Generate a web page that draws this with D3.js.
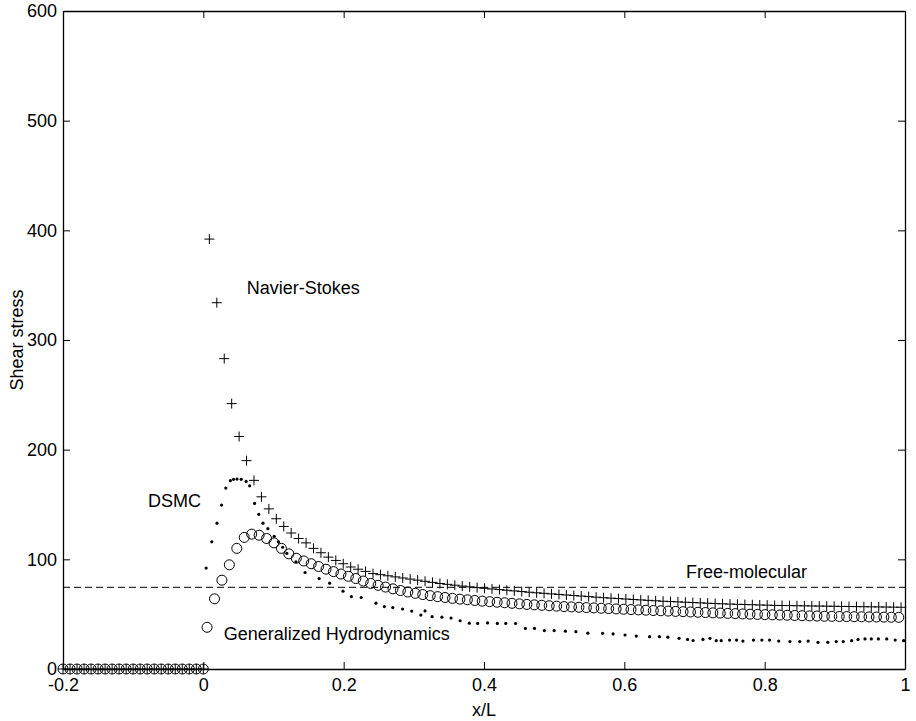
<!DOCTYPE html>
<html>
<head>
<meta charset="utf-8">
<script src="https://cdn.jsdelivr.net/npm/d3@7"></script>
<style>
  body { margin: 0; background: #fff; }
  text { font-family: "Liberation Sans", Arial, sans-serif; fill: #000; }
</style>
</head>
<body>
<svg></svg>
<script>
// upstream wall region, all three series sit on zero
const upstreamX = [-0.2, -0.19, -0.18, -0.17, -0.16, -0.15, -0.14, -0.13, -0.12, -0.11, -0.1,
  -0.09, -0.08, -0.07, -0.06, -0.05, -0.04, -0.03, -0.02, -0.01, 0];
const upstreamY = [0, 0, 0, 0, 0, 0, 0, 0, 0, 0, 0, 0, 0, 0, 0, 0, 0, 0, 0, 0, 0];

// Navier-Stokes (+), regular grid
const nsX = d3.range(94).map((k) => 0.0086 + 0.0106 * k);
const nsY = [392, 334, 283, 242, 212, 190, 172, 157, 146, 137,
  130, 124, 119, 115, 110, 106, 102, 99, 96, 93,
  91, 89, 87, 86, 85, 84, 83, 82, 81, 80,
  79, 78, 77.2, 76.4, 75.6, 74.9, 74.2, 73.6, 73, 72.4,
  71.8, 71.2, 70.6, 70, 69.5, 69, 68.5, 68, 67.5, 67,
  66.5, 66, 65.5, 65, 64.6, 64.2, 63.8, 63.4, 63, 62.6,
  62.2, 61.8, 61.5, 61.2, 60.9, 60.6, 60.3, 60, 59.7, 59.4,
  59.2, 59, 58.8, 58.6, 58.4, 58.2, 58, 57.9, 57.8, 57.7,
  57.6, 57.5, 57.4, 57.3, 57.2, 57.1, 57, 56.9, 56.8, 56.7,
  56.6, 56.5, 56.4, 56.3];

// Generalized Hydrodynamics (o)
const ghX = d3.range(94).map((k) => 0.0053 + 0.0106 * k);
const ghY = [38, 64, 81, 95, 110, 120, 123, 122, 119, 115,
  110, 105, 101, 98.5, 96, 93.5, 91, 88.8, 86.6, 84.5,
  82.5, 80.2, 78, 76.3, 74.7, 73.1, 71.6, 70.2, 69, 67.9,
  66.9, 66, 65.2, 64.4, 63.7, 63.1, 62.5, 61.9, 61.4, 60.9,
  60.4, 59.9, 59.4, 58.9, 58.5, 58.1, 57.7, 57.3, 56.9, 56.6,
  56.3, 56, 55.7, 55.4, 55.1, 54.8, 54.5, 54.2, 53.9, 53.6,
  53.3, 53.1, 52.8, 52.5, 52.3, 52, 51.7, 51.5, 51.2, 51,
  50.7, 50.5, 50.2, 50, 49.8, 49.6, 49.4, 49.2, 49, 48.8,
  48.6, 48.4, 48.3, 48.1, 48, 47.9, 47.8, 47.7, 47.6, 47.5,
  47.4, 47.3, 47.2, 47.1];

// DSMC (.)
const dsmcX = [0.004, 0.012, 0.0195, 0.026, 0.032, 0.0385, 0.043, 0.048, 0.054, 0.061,
  0.066, 0.073, 0.079, 0.085, 0.092, 0.101, 0.107, 0.113, 0.119, 0.132,
  0.145, 0.165, 0.18, 0.199, 0.211, 0.225, 0.246, 0.258, 0.27, 0.284,
  0.297, 0.31, 0.316, 0.326, 0.34, 0.353, 0.366, 0.379, 0.391, 0.405,
  0.419, 0.431, 0.445, 0.459, 0.472, 0.486, 0.5, 0.516, 0.531, 0.548,
  0.569, 0.584, 0.601, 0.617, 0.636, 0.65, 0.662, 0.678, 0.69, 0.698,
  0.712, 0.722, 0.731, 0.738, 0.75, 0.76, 0.769, 0.784, 0.796, 0.807,
  0.82, 0.836, 0.85, 0.862, 0.876, 0.89, 0.902, 0.912, 0.924, 0.933,
  0.943, 0.952, 0.962, 0.974, 0.986, 0.998];
const dsmcY = [92, 116, 133, 149.5, 165, 171.7, 173, 173.2, 173, 171,
  167, 151, 141, 133, 128, 121, 116, 111, 105.5, 97.8,
  88, 82.5, 78.3, 71, 66, 65.2, 60, 56.9, 56, 54.7,
  52.8, 49.2, 53, 47.7, 47.3, 46.5, 44, 41.8, 41.6, 42,
  41.6, 41.6, 41.5, 37, 37, 35, 35, 34.5, 34, 32.7,
  32.5, 32, 31, 30, 29.5, 29.5, 29, 28, 27, 26,
  27, 28, 25.8, 25.8, 26.4, 26.4, 25.5, 26.4, 26.4, 26.4,
  25.5, 25, 25, 25.5, 24.3, 24.3, 25, 25, 25.8, 27,
  27.4, 27.4, 27.4, 27.4, 26.4, 25.8];

const freeMolecular = 74.5;

const xTicks = [-0.2, 0, 0.2, 0.4, 0.6, 0.8, 1];
const yTicks = [0, 100, 200, 300, 400, 500, 600];

const width = 916;
const height = 721;
const margin = { top: 11, right: 11, bottom: 52, left: 63 };

const svg = d3.select("svg").attr("width", width).attr("height", height);

const x = d3.scaleLinear().domain([-0.2, 1]).range([margin.left, width - margin.right]);
const y = d3.scaleLinear().domain([0, 600]).range([height - margin.bottom, margin.top]);

const fmt = (d) => String(d);

// axes, ticks pointing inward on all four sides
const axes = svg.append("g");
axes.append("g")
  .attr("transform", `translate(0,${y(0)})`)
  .call(d3.axisBottom(x).tickValues(xTicks).tickFormat(fmt).tickSizeInner(-7).tickSizeOuter(0).tickPadding(9));
axes.append("g")
  .attr("transform", `translate(0,${y(600)})`)
  .call(d3.axisTop(x).tickValues(xTicks).tickFormat("").tickSizeInner(-7).tickSizeOuter(0));
axes.append("g")
  .attr("transform", `translate(${x(-0.2)},0)`)
  .call(d3.axisLeft(y).tickValues(yTicks).tickFormat(fmt).tickSizeInner(-7).tickSizeOuter(0).tickPadding(6));
axes.append("g")
  .attr("transform", `translate(${x(1)},0)`)
  .call(d3.axisRight(y).tickValues(yTicks).tickFormat("").tickSizeInner(-7).tickSizeOuter(0));

axes.selectAll("g").attr("font-size", 18).attr("font-family", "Liberation Sans, Arial, sans-serif");
axes.selectAll("text").attr("fill", "#000");
axes.selectAll(".domain").attr("stroke", "#000").attr("stroke-width", 1.3);
axes.selectAll(".tick line").attr("stroke", "#000").attr("stroke-width", 1);

// free-molecular limit
svg.append("line")
  .attr("x1", x(-0.2)).attr("x2", x(1))
  .attr("y1", y(freeMolecular)).attr("y2", y(freeMolecular))
  .attr("stroke", "#000").attr("stroke-width", 1)
  .attr("stroke-dasharray", "7,4");

const plot = svg.append("g");

const ghPts = upstreamX.map((d, i) => [d, upstreamY[i]]).concat(ghX.map((d, i) => [d, ghY[i]]));
const nsPts = upstreamX.map((d, i) => [d, upstreamY[i]]).concat(nsX.map((d, i) => [d, nsY[i]]));
const dsmcPts = dsmcX.map((d, i) => [d, dsmcY[i]]);

plot.selectAll(".gh")
  .data(ghPts)
  .enter()
  .append("circle")
  .attr("class", "gh")
  .attr("cx", (d) => x(d[0]))
  .attr("cy", (d) => y(d[1]))
  .attr("r", 5)
  .attr("fill", "none")
  .attr("stroke", "#000")
  .attr("stroke-width", 1);

plot.selectAll(".ns")
  .data(nsPts)
  .enter()
  .append("path")
  .attr("class", "ns")
  .attr("transform", (d) => `translate(${x(d[0])},${y(d[1])})`)
  .attr("d", "M-5,0H5M0,-5V5")
  .attr("fill", "none")
  .attr("stroke", "#000")
  .attr("stroke-width", 1);

plot.selectAll(".dsmc")
  .data(dsmcPts)
  .enter()
  .append("circle")
  .attr("class", "dsmc")
  .attr("cx", (d) => x(d[0]))
  .attr("cy", (d) => y(d[1]))
  .attr("r", 1.6)
  .attr("fill", "#000");

// annotations
const labels = [
  { text: "Navier-Stokes", lx: 0.062, ly: 342 },
  { text: "DSMC", lx: -0.079, ly: 148 },
  { text: "Generalized Hydrodynamics", lx: 0.029, ly: 26.5 },
  { text: "Free-molecular", lx: 0.688, ly: 83 }
];
svg.selectAll(".note")
  .data(labels)
  .enter()
  .append("text")
  .attr("class", "note")
  .attr("x", (d) => x(d.lx))
  .attr("y", (d) => y(d.ly))
  .attr("font-size", 18)
  .text((d) => d.text);

svg.append("text")
  .attr("x", (x(-0.2) + x(1)) / 2)
  .attr("y", 716)
  .attr("text-anchor", "middle")
  .attr("font-size", 18)
  .text("x/L");

svg.append("text")
  .attr("transform", `translate(23,${(y(0) + y(600)) / 2}) rotate(-90)`)
  .attr("text-anchor", "middle")
  .attr("font-size", 18)
  .text("Shear stress");
</script>
</body>
</html>
